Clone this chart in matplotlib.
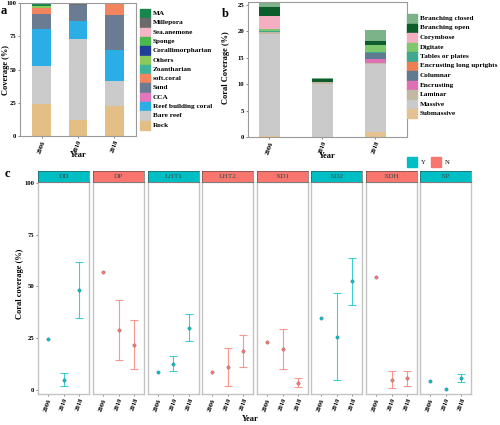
import numpy as np
import matplotlib
matplotlib.use("Agg")
import matplotlib.pyplot as plt
from matplotlib.patches import Rectangle

plt.rcParams['font.family'] = ['Liberation Serif', 'DejaVu Serif']
plt.rcParams['font.weight'] = 'bold'

years = ['2006', '2010', '2018']

# panel a: benthic cover (%), stacked bottom -> top
cover_cats = ['Rock', 'Bare reef', 'Reef building coral', 'CCA', 'Sand', 'soft.coral',
              'Zoantharian', 'Others', 'Corallimorpharian', 'Sponge', 'Sea.anemone',
              'Millepora', 'MA']
rock = [24.0, 12.0, 22.5]
bare_reef = [28.5, 61.3, 18.8]
reef_coral = [28.3, 13.2, 23.2]
cca = [0.0, 0.0, 0.0]
sand = [11.2, 11.8, 26.3]
soft_coral = [4.5, 0.0, 8.2]
zoantharian = [0.0, 0.0, 0.0]
others = [1.0, 0.0, 0.0]
corallimorph = [0.0, 0.0, 0.0]
sponge = [0.0, 0.0, 0.0]
anemone = [0.0, 0.0, 0.0]
millepora = [0.0, 1.7, 0.0]
ma = [2.5, 0.0, 1.0]
cover_vals = [rock, bare_reef, reef_coral, cca, sand, soft_coral, zoantharian, others,
              corallimorph, sponge, anemone, millepora, ma]
cover_cols = ['#E3BF86', '#CBCBCB', '#2BAEE6', '#E277BE', '#6B7B91', '#F2845F',
              '#3DB39A', '#8CC85C', '#1F3E98', '#4BB84C', '#F4B6C4', '#6A6A6A', '#17864A']

# panel b: coral growth forms (%), stacked bottom -> top
form_cats = ['Submassive', 'Massive', 'Laminar', 'Encrusting', 'Columnar',
             'Encrusting long uprights', 'Tables or plates', 'Digitate', 'Corymbose',
             'Branching open', 'Branching closed']
submassive = [0.2, 0.0, 1.0]
massive = [19.2, 10.0, 12.7]
laminar = [0.5, 0.4, 0.3]
encrusting = [0.0, 0.0, 0.7]
columnar = [0.0, 0.0, 1.1]
enc_uprights = [0.0, 0.0, 0.0]
tables = [0.1, 0.0, 0.2]
digitate = [0.4, 0.0, 1.3]
corymbose = [2.5, 0.0, 0.0]
branch_open = [1.7, 0.5, 0.9]
branch_closed = [0.7, 0.3, 2.0]
form_vals = [submassive, massive, laminar, encrusting, columnar, enc_uprights, tables,
             digitate, corymbose, branch_open, branch_closed]
form_cols = ['#E5C291', '#CACACA', '#C2B8A3', '#E070B6', '#5E7B92', '#F07E55',
             '#3FA88E', '#7DC76C', '#F6AFC2', '#0C5C2C', '#7DB389']

# panel c: coral coverage by site
sites = ['DD', 'DP', 'LHT1', 'LHT2', 'XD1', 'XD2', 'XDH', 'XP']
status = ['Y', 'N', 'Y', 'N', 'N', 'Y', 'N', 'Y']
nan = np.nan
site_mean = [[24.8, 4.8, 48.4], [57.2, 28.8, 21.8], [8.8, 12.7, 30.1], [8.5, 10.9, 18.8],
             [23.2, 19.9, 3.5], [34.6, 25.8, 52.4], [54.8, 5.0, 5.6], [4.3, 0.5, 5.8]]
site_lo = [[nan, 2.0, 34.6], [nan, 14.4, 9.9], [nan, 9.1, 23.6], [nan, 1.8, 10.9],
           [nan, 10.1, 1.3], [nan, 4.6, 41.2], [nan, 0.8, 1.9], [nan, nan, 3.7]]
site_hi = [[nan, 8.0, 62.0], [nan, 43.6, 33.8], [nan, 16.2, 36.9], [nan, 20.0, 26.3],
           [nan, 29.6, 5.9], [nan, 46.8, 63.8], [nan, 9.1, 9.1], [nan, nan, 7.7]]
status_cols = {'Y': '#00BFC4', 'N': '#F8766D'}

W, H = 500, 425
fig = plt.figure(figsize=(5, 4.25), dpi=100)


def box(x0, y0, x1, y1):
    return [x0 / W, 1 - y1 / H, (x1 - x0) / W, (y1 - y0) / H]


FS = 4.8     # tick labels
LFS = 6.0    # axis titles
x = np.arange(1, 4)


def style(ax):
    for s in ax.spines.values():
        s.set_color('#9A9A9A')
        s.set_linewidth(0.8)
    ax.tick_params(length=1.5, width=0.5, color='#555555', labelsize=FS, pad=1)


def stacked(ax, vals, cols, cats, width, leg_x, leg_y, pitch):
    bottom = np.zeros(3)
    for v, c in zip(vals, cols):
        ax.bar(x, v, width, bottom=bottom, color=c, linewidth=0)
        bottom += np.array(v)
    ax.set_xticks(x)
    ax.set_xticklabels(years, rotation=70, ha='right', va='top',
                       rotation_mode='anchor', fontsize=FS, weight='bold')
    ax.set_xlabel('Year', fontsize=LFS, weight='bold', labelpad=-2)
    style(ax)
    # legend, top entry = top of stack
    for i, (name, c) in enumerate(zip(cats[::-1], cols[::-1])):
        yy = leg_y + i * pitch
        fig.patches.append(Rectangle((leg_x / W, 1 - (yy + 4.5) / H), 10 / W, 9 / H,
                                     transform=fig.transFigure, color=c))
        fig.text((leg_x + 13) / W, 1 - yy / H, name, fontsize=5.2, weight='bold',
                 va='center', ha='left')


# ---- panel a
axa = fig.add_axes(box(20, 3, 136, 136))
stacked(axa, cover_vals, cover_cols, cover_cats, 0.52, 140, 13.5, 9.3)
axa.set_ylim(0, 100)
axa.set_xlim(0.4, 3.6)
axa.set_yticks([0, 25, 50, 75, 100])
axa.set_ylabel('Coverage (%)', fontsize=LFS, weight='bold')
axa.yaxis.set_label_coords(10 / W, 1 - 70 / H, transform=fig.transFigure)

# ---- panel b
axb = fig.add_axes(box(248, 2, 407, 137))
stacked(axb, form_vals, form_cols, form_cats, 0.4, 407, 18.5, 9.5)
axb.set_ylim(0, 25.5)
axb.set_xlim(0.6, 3.6)
axb.set_yticks([0, 5, 10, 15, 20, 25])
axb.set_ylabel('Coral Coverage (%)', fontsize=LFS, weight='bold')
axb.yaxis.set_label_coords(230 / W, 1 - 68 / H, transform=fig.transFigure)

# ---- panel c
facet_x = [38, 93, 148, 202, 257, 311, 366, 420]
fw = 51
for i, site in enumerate(sites):
    x0 = facet_x[i]
    ax = fig.add_axes(box(x0, 182, x0 + fw, 394))
    col = status_cols[status[i]]
    m = np.array(site_mean[i])
    lo = np.array(site_lo[i])
    hi = np.array(site_hi[i])
    ok = ~np.isnan(lo)
    ax.errorbar(x[ok], m[ok], yerr=[m[ok] - lo[ok], hi[ok] - m[ok]], fmt='none',
                ecolor=col, elinewidth=0.8, capsize=3, capthick=0.8, alpha=0.75)
    ax.scatter(x, m, s=6, color=col, edgecolors='#555555', linewidths=0.2, zorder=3)
    ax.set_xlim(0.4, 3.6)
    ax.set_ylim(-2, 100.5)
    ax.set_xticks(x)
    ax.set_xticklabels(years, rotation=70, ha='right', va='top',
                       rotation_mode='anchor', fontsize=FS, weight='bold')
    style(ax)
    for s in ax.spines.values():
        s.set_color('#C4C4C4')
        s.set_linewidth(1.0)
    if i == 0:
        ax.set_yticks([0, 25, 50, 75, 100])
        ax.set_ylabel('Coral coverage (%)', fontsize=LFS, weight='bold')
        ax.yaxis.set_label_coords(24 / W, 1 - 284 / H, transform=fig.transFigure)
    else:
        ax.set_yticks([])
    sax = fig.add_axes(box(x0, 171, x0 + fw, 182))
    sax.set_facecolor(col)
    sax.set_xticks([])
    sax.set_yticks([])
    for s in sax.spines.values():
        s.set_color('#444444')
        s.set_linewidth(0.4)
    sax.text(0.5, 0.5, site, ha='center', va='center', fontsize=5.2,
             weight='normal', color='#2F4F4F', transform=sax.transAxes)

fig.text(250 / W, 1 - 419 / H, 'Year', ha='center', va='center', fontsize=LFS, weight='bold')

# status legend
for lab, lx in [('Y', 407), ('N', 431)]:
    fig.patches.append(Rectangle((lx / W, 1 - 167 / H), 10 / W, 10 / H,
                                 transform=fig.transFigure, color=status_cols[lab]))
    fig.text((lx + 14) / W, 1 - 162 / H, lab, fontsize=4.8, weight='normal', va='center')

# panel letters
fig.text(1 / W, 1 - 11 / H, 'a', fontsize=9, weight='bold', va='center')
fig.text(222 / W, 1 - 14 / H, 'b', fontsize=9, weight='bold', va='center')
fig.text(5 / W, 1 - 174 / H, 'c', fontsize=9, weight='bold', va='center')

fig.savefig('out.png', dpi=100)
